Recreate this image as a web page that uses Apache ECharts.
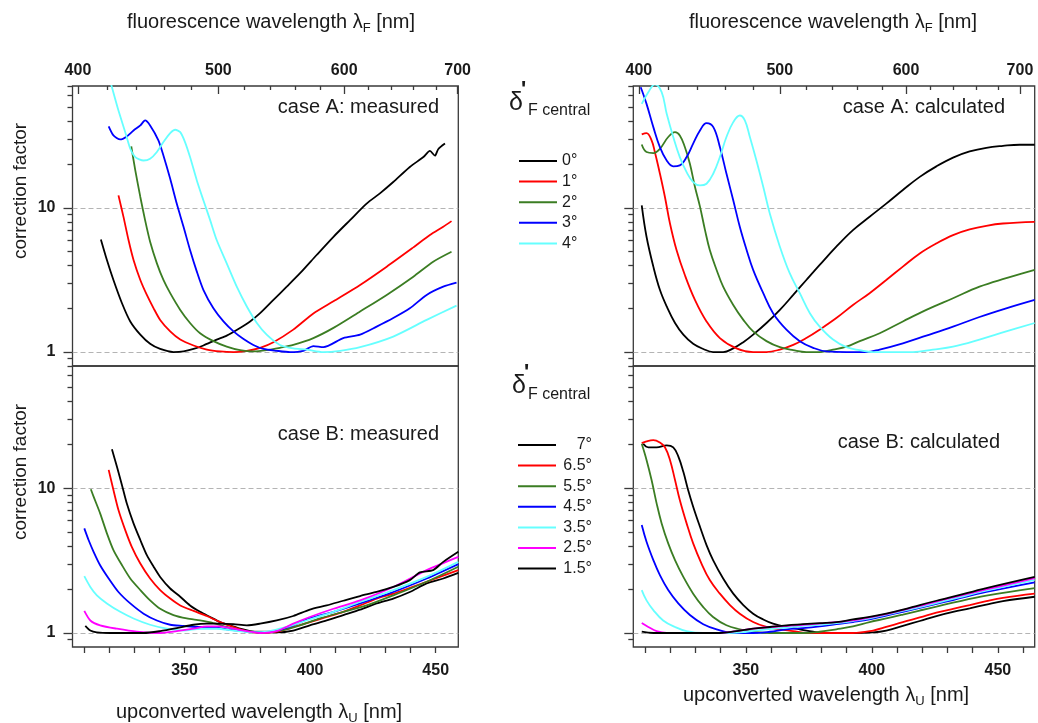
<!DOCTYPE html>
<html>
<head>
<meta charset="utf-8">
<title>correction factor</title>
<script src="https://cdn.jsdelivr.net/npm/echarts@6/dist/echarts.min.js"></script>
<style>
  html, body { margin: 0; padding: 0; background: #fff; }
  #chart { width: 1038px; height: 723px; }
</style>
</head>
<body>
<div id="chart"></div>
<script>
// pump wavelength [nm], links upconverted and fluorescence wavelength
const PUMP = 1331;

// tick values
const FL_MAJOR = [400, 500, 600, 700];
const FL_MINOR = [420, 440, 460, 480, 520, 540, 560, 580, 620, 640, 660, 680];
const U_TICKS = [310, 320, 330, 340, 350, 360, 370, 380, 390, 400, 410, 420, 430, 440, 450, 460];
const U_LABELS = [350, 400, 450];
const Y_MAJOR = [1, 10];
const Y_MINOR = [0.9, 2, 3, 4, 5, 6, 7, 8, 9, 20, 30, 40, 50, 60, 70];

const NAMES_A = ['0°', '1°', '2°', '3°', '4°'];
const NAMES_B = ['7°', '6.5°', '5.5°', '4.5°', '3.5°', '2.5°', '1.5°'];

// case A measured  [upconverted wavelength, correction factor]
const aMeas0 = [[316.7,6.04],[319.1,4.35],[321.7,3.16],[325.1,2.18],[328.4,1.63],[332.4,1.32],[336.3,1.14],[340.3,1.05],[345.6,1.0],[349.6,1.01],[353.6,1.05],[357.5,1.11],[362.8,1.22],[366.8,1.30],[372.1,1.47],[376.1,1.63],[380.1,1.86],[385.4,2.30],[390.7,2.84],[396.0,3.52],[402.6,4.71],[409.3,6.30],[415.9,8.22],[422.5,10.7],[427.8,12.6],[433.1,15.1],[439.7,19.2],[445.1,22.5],[447.7,24.8],[449.7,23.0],[451.0,25.5],[453.7,27.9]];
const aMeas1 = [[323.7,12.2],[325.7,8.66],[327.7,5.98],[329.7,4.35],[332.4,3.16],[335.0,2.49],[337.7,2.01],[340.3,1.67],[344.3,1.39],[348.3,1.22],[353.6,1.11],[358.9,1.04],[364.2,1.01],[369.5,1.0],[374.8,1.02],[380.1,1.07],[385.4,1.17],[393.3,1.43],[401.3,1.85],[409.3,2.25],[419.9,2.92],[430.5,3.91],[441.1,5.32],[447.7,6.47],[453.0,7.39],[456.3,8.09]];
const aMeas2 = [[328.8,26.7],[330.4,18.2],[332.4,11.9],[334.3,8.22],[336.3,5.82],[339.0,4.12],[341.6,3.16],[344.3,2.56],[348.3,1.96],[352.2,1.59],[356.2,1.35],[361.5,1.19],[366.8,1.09],[372.1,1.03],[377.4,1.01],[382.7,1.03],[388.0,1.07],[393.3,1.12],[401.3,1.25],[409.3,1.47],[419.9,1.91],[430.5,2.49],[441.1,3.33],[449.0,4.23],[456.3,4.96]];
const aMeas3 = [[319.8,36.7],[321.7,31.8],[324.4,29.8],[327.0,31.3],[329.7,34.4],[332.4,37.3],[334.3,40.4],[336.3,37.3],[339.6,29.4],[341.6,23.1],[344.3,15.9],[346.9,10.7],[349.6,7.39],[352.2,5.10],[354.9,3.61],[357.5,2.70],[361.5,2.01],[365.5,1.63],[369.5,1.39],[373.5,1.23],[377.4,1.12],[381.4,1.05],[386.7,1.02],[392.0,1.0],[397.3,1.02],[401.3,1.10],[405.3,1.08],[413.2,1.25],[419.9,1.32],[426.5,1.50],[433.1,1.72],[439.7,2.01],[446.4,2.49],[453.0,2.84],[458.3,3.03]];
const aMeas4 = [[320.1,80],[321.1,68.6],[323.7,47.3],[326.4,33.5],[328.4,25.7],[330.4,22.5],[333.7,21.3],[336.3,21.9],[339.0,24.4],[341.6,28.6],[344.3,33.0],[346.3,34.8],[348.3,33.5],[350.2,28.6],[352.2,22.5],[354.9,15.5],[357.5,11.3],[360.2,8.22],[362.8,5.98],[366.8,4.12],[370.8,2.84],[374.8,2.07],[378.8,1.59],[382.7,1.32],[388.0,1.12],[393.3,1.06],[398.6,1.04],[405.3,1.0],[411.9,1.02],[419.9,1.08],[433.1,1.28],[446.4,1.67],[458.3,2.10]];

// case A calculated
const aCalc0 = [[308.7,10.4],[310.6,6.30],[313.3,3.91],[315.9,2.70],[318.6,2.07],[321.9,1.59],[325.2,1.32],[329.1,1.14],[333.1,1.05],[337.0,1.0],[341.0,1.0],[345.0,1.06],[349.0,1.17],[352.9,1.32],[358.2,1.59],[363.5,1.96],[368.8,2.49],[374.0,3.16],[379.3,4.02],[385.9,5.38],[392.5,7.01],[399.1,8.67],[405.7,10.7],[412.3,13.3],[419.0,16.4],[425.6,19.4],[432.2,22.3],[438.8,24.6],[445.4,26.1],[452.0,26.9],[458.6,27.4],[464.6,27.4]];
const aCalc1 = [[308.7,32.3],[310.6,33.0],[312.6,29.4],[313.9,24.4],[315.9,17.3],[317.9,11.9],[319.9,7.79],[322.5,5.10],[325.8,3.42],[329.8,2.30],[334.4,1.63],[339.7,1.25],[346.3,1.06],[352.9,1.0],[358.2,1.0],[363.5,1.04],[368.8,1.12],[374.0,1.25],[379.3,1.43],[385.9,1.72],[392.5,2.12],[399.1,2.56],[405.7,3.16],[412.3,3.91],[419.0,4.83],[425.6,5.67],[432.2,6.47],[438.8,7.08],[445.4,7.51],[452.0,7.79],[464.6,8.0]];
const aCalc2 = [[308.7,27.5],[310.6,24.4],[313.3,24.0],[315.9,25.7],[319.2,31.0],[321.9,33.5],[323.8,31.8],[325.8,26.4],[327.8,20.2],[329.8,14.0],[331.8,10.2],[333.8,7.01],[335.7,5.10],[338.4,3.71],[341.0,2.84],[345.0,2.12],[349.0,1.67],[352.9,1.39],[358.2,1.19],[363.5,1.08],[368.8,1.03],[374.0,1.0],[379.3,1.0],[384.6,1.04],[389.9,1.09],[395.2,1.19],[403.1,1.35],[412.3,1.63],[421.6,1.96],[432.2,2.36],[442.7,2.84],[453.3,3.25],[464.6,3.71]];
const aCalc3 = [[308.3,68.6],[310.6,52.6],[313.3,36.3],[315.9,26.4],[318.6,21.3],[321.2,19.4],[323.8,19.7],[326.5,22.5],[329.1,27.9],[331.8,34.4],[334.4,38.7],[337.1,36.3],[339.7,26.4],[342.3,17.3],[345.0,11.3],[347.6,7.39],[350.3,5.10],[352.9,3.71],[356.9,2.56],[360.8,1.86],[366.1,1.43],[371.4,1.19],[376.7,1.07],[382.0,1.01],[389.9,1.0],[397.8,1.0],[403.1,1.04],[412.3,1.15],[421.6,1.30],[432.2,1.50],[442.7,1.75],[453.3,2.01],[464.6,2.30]];
const aCalc4 = [[308.7,52.6],[311.3,63.4],[313.9,72],[316.6,63.4],[318.6,44.9],[321.2,31.0],[323.8,22.5],[326.5,17.7],[329.1,15.1],[331.8,14.3],[334.4,14.7],[337.1,17.3],[339.7,22.5],[342.3,31.0],[345.0,39.3],[347.6,43.7],[349.6,40.4],[351.6,31.0],[354.2,21.3],[356.9,14.0],[359.5,9.14],[363.5,5.38],[367.4,3.52],[371.4,2.56],[375.4,1.86],[379.3,1.50],[384.6,1.22],[389.9,1.08],[395.2,1.03],[400.5,1.0],[416.3,1.0],[424.2,1.04],[432.2,1.09],[442.7,1.22],[453.3,1.39],[464.6,1.59]];

// case B measured
const bMeas7 = [[321.1,18.6],[323.1,14.1],[325.1,10.5],[327.0,7.87],[329.7,5.72],[332.4,4.39],[335.0,3.45],[337.7,2.87],[340.3,2.44],[344.3,2.03],[348.3,1.78],[352.2,1.55],[356.2,1.40],[360.2,1.29],[364.2,1.19],[368.1,1.13],[372.1,1.07],[376.1,1.03],[380.1,1.01],[386.7,1.01],[393.3,1.04],[399.9,1.13],[406.6,1.22],[413.2,1.33],[419.9,1.45],[426.5,1.60],[433.1,1.73],[439.7,1.92],[446.4,2.20],[453.0,2.38],[459.0,2.60]];
const bMeas65 = [[319.8,13.4],[321.7,9.73],[323.7,7.08],[326.4,5.14],[329.0,3.94],[332.4,3.02],[336.3,2.38],[340.3,1.98],[344.3,1.73],[348.3,1.55],[353.6,1.42],[358.9,1.31],[364.2,1.19],[369.5,1.10],[374.8,1.03],[380.1,1.0],[386.7,1.02],[393.3,1.10],[399.9,1.19],[406.6,1.29],[413.2,1.40],[419.9,1.55],[426.5,1.73],[433.1,1.87],[446.4,2.26],[459.0,2.72]];
const bMeas55 = [[312.7,9.84],[313.8,8.75],[316.4,6.71],[319.1,4.88],[321.7,3.74],[325.1,2.94],[328.4,2.38],[332.4,1.98],[336.3,1.68],[340.3,1.47],[345.6,1.33],[350.9,1.26],[356.2,1.22],[361.5,1.17],[366.8,1.10],[372.1,1.04],[377.4,1.02],[382.7,1.02],[390.7,1.06],[396.0,1.13],[403.9,1.26],[413.2,1.40],[422.5,1.55],[433.1,1.82],[446.4,2.26],[459.0,2.87]];
const bMeas45 = [[310.1,5.28],[311.8,4.39],[313.8,3.64],[316.4,2.94],[319.8,2.38],[323.7,1.92],[328.4,1.60],[333.7,1.36],[339.0,1.22],[344.3,1.14],[349.6,1.12],[354.9,1.10],[360.2,1.10],[366.8,1.06],[373.5,1.03],[380.1,1.01],[386.7,1.04],[393.3,1.13],[399.9,1.26],[409.3,1.40],[419.9,1.60],[433.1,1.92],[446.4,2.38],[459.0,2.99]];
const bMeas35 = [[310.1,2.47],[312.5,2.08],[315.1,1.82],[319.1,1.60],[324.4,1.40],[329.7,1.26],[336.3,1.14],[343.0,1.07],[349.6,1.04],[356.2,1.07],[362.8,1.07],[369.5,1.04],[377.4,1.01],[382.7,1.02],[390.7,1.10],[398.6,1.22],[409.3,1.40],[419.9,1.64],[433.1,1.98],[446.4,2.44],[459.0,3.10]];
const bMeas25 = [[310.1,1.42],[312.5,1.22],[316.4,1.13],[323.1,1.07],[331.0,1.02],[340.3,1.0],[346.9,1.03],[353.6,1.07],[358.9,1.11],[364.2,1.11],[369.5,1.07],[374.8,1.03],[380.1,1.0],[386.7,1.03],[393.3,1.16],[399.9,1.29],[409.3,1.47],[419.9,1.68],[433.1,2.08],[446.4,2.72],[459.0,3.36]];
const bMeas15 = [[310.5,1.12],[312.5,1.04],[315.1,1.01],[320.4,1.0],[333.7,1.0],[340.3,1.03],[346.9,1.08],[353.6,1.14],[358.9,1.16],[364.2,1.16],[369.5,1.15],[374.8,1.13],[380.1,1.16],[386.7,1.22],[393.3,1.31],[399.9,1.45],[406.6,1.55],[413.2,1.67],[419.9,1.80],[426.5,1.92],[433.1,2.08],[439.7,2.32],[443.7,2.62],[449.0,2.72],[453.0,3.10],[459.0,3.64]];

// case B calculated
const bCalc7 = [[309.3,20.3],[311.3,19.2],[314.6,19.2],[318.6,19.8],[321.2,19.2],[323.2,16.6],[325.2,13.0],[327.1,9.73],[329.1,7.46],[331.8,5.42],[334.4,4.05],[337.0,3.19],[341.0,2.38],[345.0,1.87],[349.0,1.56],[352.9,1.36],[356.9,1.24],[360.8,1.16],[366.1,1.10],[371.4,1.06],[376.7,1.02],[382.0,1.0],[392.5,1.0],[400.5,1.01],[405.7,1.04],[412.3,1.12],[419.0,1.21],[425.6,1.31],[432.2,1.40],[438.8,1.48],[445.4,1.57],[452.0,1.66],[464.6,1.78]];
const bCalc65 = [[308.7,20.5],[310.6,21.1],[313.3,21.5],[315.9,20.7],[317.9,19.2],[319.9,15.7],[321.9,11.4],[323.8,8.30],[326.5,5.72],[329.1,4.16],[332.4,3.02],[335.7,2.32],[339.7,1.87],[343.7,1.56],[347.6,1.36],[352.9,1.19],[358.2,1.10],[363.5,1.06],[368.8,1.03],[374.0,1.0],[379.3,1.0],[392.5,1.0],[400.5,1.04],[405.7,1.10],[412.3,1.19],[419.0,1.28],[425.6,1.38],[432.2,1.47],[438.8,1.56],[445.4,1.66],[452.0,1.75],[464.6,1.87]];
const bCalc55 = [[308.7,20.3],[310.6,15.7],[312.6,11.4],[314.6,7.87],[316.6,5.72],[319.2,4.16],[321.9,3.19],[325.2,2.44],[329.1,1.87],[333.1,1.51],[337.0,1.29],[342.3,1.13],[347.6,1.06],[352.9,1.02],[359.5,1.0],[372.7,1.0],[379.3,1.02],[385.9,1.06],[392.5,1.11],[399.1,1.19],[405.7,1.26],[412.3,1.34],[419.0,1.43],[425.6,1.52],[432.2,1.62],[445.4,1.81],[464.6,2.04]];
const bCalc45 = [[308.7,5.57],[310.6,4.27],[313.3,3.19],[315.9,2.51],[319.2,1.98],[323.2,1.60],[327.8,1.33],[333.1,1.15],[338.4,1.06],[345.0,1.0],[352.9,1.0],[359.5,1.02],[366.1,1.06],[372.7,1.08],[379.3,1.11],[385.9,1.15],[392.5,1.19],[399.1,1.24],[405.7,1.32],[412.3,1.40],[419.0,1.49],[425.6,1.59],[432.2,1.69],[445.4,1.92],[464.6,2.24]];
const bCalc35 = [[308.7,1.98],[310.6,1.68],[313.3,1.44],[317.2,1.22],[321.9,1.10],[326.5,1.03],[333.1,1.0],[342.3,1.0],[350.3,1.02],[358.2,1.06],[366.1,1.09],[372.7,1.12],[379.3,1.14],[385.9,1.17],[392.5,1.21],[399.1,1.26],[405.7,1.34],[412.3,1.42],[419.0,1.51],[425.6,1.61],[432.2,1.72],[445.4,1.96],[464.6,2.33]];
const bCalc25 = [[308.7,1.17],[311.3,1.10],[314.6,1.03],[318.6,1.0],[326.5,1.0],[339.7,1.0],[346.3,1.03],[352.9,1.07],[359.5,1.10],[366.1,1.12],[372.7,1.14],[379.3,1.16],[385.9,1.19],[392.5,1.22],[399.1,1.28],[405.7,1.35],[412.3,1.44],[419.0,1.54],[425.6,1.65],[432.2,1.76],[445.4,2.0],[464.6,2.39]];
const bCalc15 = [[308.7,1.02],[313.3,1.0],[326.5,1.0],[339.7,1.0],[346.3,1.03],[352.9,1.07],[359.5,1.10],[366.1,1.13],[372.7,1.15],[379.3,1.17],[385.9,1.19],[392.5,1.24],[399.1,1.29],[405.7,1.36],[412.3,1.45],[419.0,1.56],[425.6,1.67],[432.2,1.78],[445.4,2.04],[464.6,2.44]];

const COLORS_A = ['#000000', '#ff0000', '#3b7d23', '#0000ff', '#66ffff'];
const COLORS_B = ['#000000', '#ff0000', '#3b7d23', '#0000ff', '#66ffff', '#ff00ff', '#000000'];

const FONT = '"Liberation Sans", Arial, Helvetica, sans-serif';
const INK = '#1a1a1a';
const AXIS = '#3a3a3a';

const toU = f => f * PUMP / (f + PUMP);
const toF = u => 1 / (1 / u - 1 / PUMP);

const RANGE_L = [305.4, 459.0];
const RANGE_R = [305.35, 464.6];

const rects = [
  { left: 72.5, top: 86, width: 385.8, height: 280 },
  { left: 633.3, top: 86, width: 401.4, height: 280 },
  { left: 72.5, top: 366, width: 385.8, height: 281 },
  { left: 633.3, top: 366, width: 401.4, height: 281 }
];
const ranges = [RANGE_L, RANGE_R, RANGE_L, RANGE_R];

const grid = [];
rects.forEach(r => grid.push(Object.assign({ show: true, borderColor: AXIS, borderWidth: 1.3, backgroundColor: 'transparent', outerBoundsMode: 'none' }, r)));
rects.forEach(r => grid.push(Object.assign({ show: false, outerBoundsMode: 'none' }, r)));

const tickLine = { color: AXIS, width: 1.3 };
const labelFont = { fontSize: 16, fontWeight: 'bold', color: INK, fontFamily: FONT };

const xAxis = [];
const yAxis = [];
for (let i = 0; i < 4; i++) {
  const top = i < 2;
  if (top) {
    xAxis.push({
      type: 'value', gridIndex: i, position: 'top', min: ranges[i][0], max: ranges[i][1],
      axisLine: { show: false }, splitLine: { show: false },
      axisTick: { show: true, inside: true, length: 8, customValues: FL_MAJOR.map(toU), lineStyle: tickLine },
      axisLabel: Object.assign({ show: true, customValues: FL_MAJOR.map(toU), margin: 7,
        formatter: v => String(Math.round(toF(v))) }, labelFont)
    });
  } else {
    xAxis.push({
      type: 'value', gridIndex: i, position: 'bottom', min: ranges[i][0], max: ranges[i][1],
      axisLine: { show: false }, splitLine: { show: false },
      axisTick: { show: true, length: 6, customValues: U_TICKS, lineStyle: tickLine },
      axisLabel: Object.assign({ show: true, customValues: U_LABELS, margin: 16 }, labelFont)
    });
  }
  yAxis.push({
    type: 'log', gridIndex: i, min: 0.8, max: 70,
    axisLine: { show: false },
    axisTick: { show: true, length: 9, customValues: Y_MAJOR, lineStyle: tickLine },
    axisLabel: Object.assign({ show: i % 2 === 0, customValues: Y_MAJOR, margin: 17 }, labelFont),
    splitLine: { show: true, lineStyle: { color: '#b4b4b4', width: 1, type: [5, 3] } }
  });
}
// overlay grids: minor ticks
for (let i = 0; i < 4; i++) {
  const top = i < 2;
  xAxis.push({
    type: 'value', gridIndex: 4 + i, position: top ? 'top' : 'bottom', min: ranges[i][0], max: ranges[i][1],
    show: top,
    axisLine: { show: false }, splitLine: { show: false }, axisLabel: { show: false },
    axisTick: { show: top, inside: true, length: 4, customValues: FL_MINOR.map(toU), lineStyle: tickLine }
  });
  yAxis.push({
    type: 'log', gridIndex: 4 + i, min: 0.8, max: 70,
    axisLine: { show: false }, splitLine: { show: false }, axisLabel: { show: false },
    axisTick: { show: true, length: 5, customValues: Y_MINOR, lineStyle: tickLine }
  });
}

function line(name, color, data, idx, smooth) {
  return {
    type: 'line', name: name, data: data, xAxisIndex: idx, yAxisIndex: idx,
    symbol: 'none', showSymbol: false, smooth: smooth, clip: true,
    lineStyle: { color: color, width: 1.8 }, itemStyle: { color: color },
    emphasis: { disabled: true }
  };
}

const aMeas = [aMeas0, aMeas1, aMeas2, aMeas3, aMeas4];
const aCalc = [aCalc0, aCalc1, aCalc2, aCalc3, aCalc4];
const bMeas = [bMeas7, bMeas65, bMeas55, bMeas45, bMeas35, bMeas25, bMeas15];
const bCalc = [bCalc7, bCalc65, bCalc55, bCalc45, bCalc35, bCalc25, bCalc15];

const series = [];
NAMES_A.forEach((n, k) => series.push(line(n, COLORS_A[k], aMeas[k], 0, 0.25)));
NAMES_A.forEach((n, k) => series.push(line(n, COLORS_A[k], aCalc[k], 1, 0.4)));
NAMES_B.forEach((n, k) => series.push(line(n, COLORS_B[k], bMeas[k], 2, 0.25)));
NAMES_B.forEach((n, k) => series.push(line(n, COLORS_B[k], bCalc[k], 3, 0.4)));

function label(x, y, text, size, align, weight) {
  return { type: 'text', x: x, y: y, silent: true,
    style: { text: text, fontSize: size, fontFamily: FONT, fontWeight: weight || 'normal', fill: INK,
      align: align || 'left', verticalAlign: 'middle' } };
}
function subText(x, y, main, sub, tail) {
  const a = { fontSize: 20, fontFamily: FONT, fill: INK, lineHeight: 26 };
  return { type: 'text', x: x, y: y, silent: true,
    style: { text: '{a|' + main + '}{s|' + sub + '}{a|' + tail + '}', fill: INK, fontSize: 20, fontFamily: FONT,
      align: 'center', verticalAlign: 'middle',
      rich: { a: a, s: { fontSize: 13, fontFamily: FONT, fill: INK, verticalAlign: 'bottom', lineHeight: 14 } } } };
}
function rotated(x, y, text) {
  return { type: 'text', x: x, y: y, rotation: Math.PI / 2, silent: true,
    style: { text: text, fontSize: 19, fontFamily: FONT, fill: INK, align: 'center', verticalAlign: 'middle' } };
}

const graphic = [
  subText(271, 22, 'fluorescence wavelength λ', 'F', ' [nm]'),
  subText(833, 22, 'fluorescence wavelength λ', 'F', ' [nm]'),
  subText(259, 712, 'upconverted wavelength λ', 'U', ' [nm]'),
  subText(826, 695, 'upconverted wavelength λ', 'U', ' [nm]'),
  rotated(21, 191, 'correction factor'),
  rotated(21, 472, 'correction factor'),
  label(439, 107, 'case A: measured', 20, 'right'),
  label(1005, 107, 'case A: calculated', 20, 'right'),
  label(439, 434, 'case B: measured', 20, 'right'),
  label(1000, 442, 'case B: calculated', 20, 'right'),
  label(509, 103, 'δ', 25),
  label(521, 90, "'", 22, 'left', 'bold'),
  label(528, 111, 'F central', 16),
  label(512, 386, 'δ', 25),
  label(524, 373, "'", 22, 'left', 'bold'),
  label(528, 395, 'F central', 16)
];

const legendText = { fontSize: 16, lineHeight: 16, color: INK, fontFamily: FONT };

const option = {
  backgroundColor: '#ffffff',
  animation: false,
  grid: grid,
  xAxis: xAxis,
  yAxis: yAxis,
  legend: [
    { data: NAMES_A, orient: 'vertical', left: 514, top: 148, itemWidth: 38, itemHeight: 2, itemGap: 4.6,
      icon: 'rect', textStyle: legendText },
    { data: NAMES_B, orient: 'vertical', left: 513, top: 432, itemWidth: 38, itemHeight: 2, itemGap: 4.6,
      icon: 'rect', formatter: n => '{r|' + n + '}',
      textStyle: Object.assign({ rich: { r: { width: 31, align: 'right', fontSize: 16, lineHeight: 16, color: INK, fontFamily: FONT } } }, legendText) }
  ],
  graphic: graphic,
  series: series
};

const chart = echarts.init(document.getElementById('chart'), null, { renderer: 'canvas' });
chart.setOption(option);
</script>
</body>
</html>
